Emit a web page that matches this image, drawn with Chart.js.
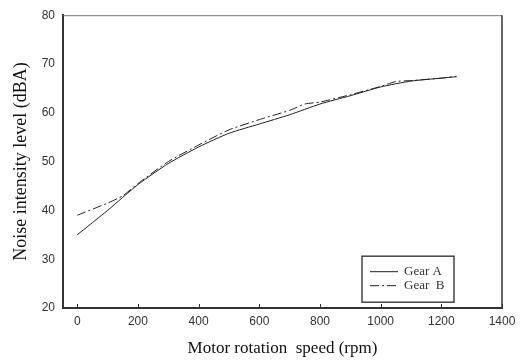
<!DOCTYPE html>
<html>
<head>
<meta charset="utf-8">
<script src="https://cdn.jsdelivr.net/npm/chart.js@4/dist/chart.umd.min.js"></script>
<style>
html,body{margin:0;padding:0;background:#fff;}
#wrap{width:530px;height:361px;position:relative;}
</style>
</head>
<body>
<div id="wrap"><canvas id="c" width="530" height="361"></canvas></div>
<script>
// Data
const gearA_rpm = [0, 100, 200, 300, 400, 500, 600, 700, 800, 900, 1000, 1100, 1200, 1250];
const gearA_dB  = [35, 40, 45.3, 49.6, 53, 55.8, 57.7, 59.6, 61.8, 63.5, 65.3, 66.5, 67.1, 67.4];
const gearB_rpm = [0, 100, 150, 200, 300, 400, 500, 600, 700, 750, 800, 900, 1000, 1050, 1100, 1200, 1250];
const gearB_dB  = [39, 41.5, 43, 45.5, 50, 53.4, 56.5, 58.6, 60.5, 61.8, 62.2, 63.7, 65.4, 66.4, 66.6, 67.1, 67.5];
const seriesNames = ['Gear A', 'Gear  B'];
const xTicks = [0, 200, 400, 600, 800, 1000, 1200, 1400];
const yTicks = [20, 30, 40, 50, 60, 70, 80];

const toPts = (xs, ys) => xs.map((x, i) => ({x: x, y: ys[i]}));

const framePlugin = {
  id: 'frame',
  afterDraw(chart) {
    const ctx = chart.ctx, a = chart.chartArea, xs = chart.scales.x;
    ctx.save();
    ctx.strokeStyle = '#777'; ctx.lineWidth = 1;
    ctx.beginPath(); ctx.moveTo(a.left, a.top + 0.5); ctx.lineTo(a.right, a.top + 0.5); ctx.stroke();
    ctx.strokeStyle = '#333'; ctx.lineWidth = 1.5;
    ctx.beginPath(); ctx.moveTo(a.right, a.top); ctx.lineTo(a.right, a.bottom); ctx.stroke();
    ctx.strokeStyle = '#333'; ctx.lineWidth = 1;
    xs.ticks.forEach((t, i) => {
      const px = Math.round(xs.getPixelForTick(i)) + 0.5;
      ctx.beginPath(); ctx.moveTo(px, a.bottom); ctx.lineTo(px, a.bottom - 4); ctx.stroke();
    });
    const bx = a.left + 299, by = a.top + 241, bw = 92, bh = 46;
    ctx.strokeStyle = '#444'; ctx.lineWidth = 1.5;
    ctx.strokeRect(bx, by, bw, bh);
    ctx.font = '13px "Liberation Serif", "Times New Roman", serif';
    ctx.textBaseline = 'middle';
    chart.data.datasets.forEach((ds, i) => {
      const ly = by + 15 + i * 14;
      ctx.strokeStyle = ds.borderColor; ctx.lineWidth = 1;
      ctx.setLineDash(ds.borderDash || []);
      ctx.beginPath(); ctx.moveTo(bx + 8, ly + 0.5); ctx.lineTo(bx + 36, ly + 0.5); ctx.stroke();
      ctx.setLineDash([]);
      ctx.fillStyle = '#333';
      ctx.fillText(ds.label, bx + 42, ly);
    });
    ctx.restore();
  }
};

new Chart(document.getElementById('c'), {
  type: 'line',
  data: {
    datasets: [
      {label: seriesNames[0], data: toPts(gearA_rpm, gearA_dB), borderColor: '#222', borderWidth: 1, pointRadius: 0, tension: 0.2, fill: false},
      {label: seriesNames[1], data: toPts(gearB_rpm, gearB_dB), borderColor: '#222', borderWidth: 1, borderDash: [9, 3, 2, 3], pointRadius: 0, tension: 0.2, fill: false}
    ]
  },
  options: {
    responsive: false,
    animation: false,
    events: [],
    layout: {padding: {left: 10, right: 28, top: 10, bottom: 0}},
    plugins: {legend: {display: false}, tooltip: {enabled: false}},
    scales: {
      x: {
        type: 'linear', min: -47, max: 1400,
        afterBuildTicks: s => { s.ticks = xTicks.map(v => ({value: v})); },
        afterFit: s => { s.height = 53; },
        grid: {display: false, drawTicks: false},
        border: {display: true, color: '#333', width: 2},
        ticks: {padding: 6, color: '#333', maxRotation: 0, autoSkip: false,
                callback: v => String(v),
                font: {family: '"Liberation Sans", Arial, sans-serif', size: 12}},
        title: {display: true, text: 'Motor rotation  speed (rpm)', color: '#111',
                padding: {top: 0, bottom: 2},
                font: {family: '"Liberation Serif", "Times New Roman", serif', size: 17}}
      },
      y: {
        type: 'linear', min: 20, max: 80,
        afterBuildTicks: s => { s.ticks = yTicks.map(v => ({value: v})); },
        afterFit: s => { s.width = 53; },
        grid: {display: false, drawTicks: false},
        border: {display: true, color: '#333', width: 2},
        ticks: {padding: 8, color: '#333', callback: v => String(v),
                font: {family: '"Liberation Sans", Arial, sans-serif', size: 12}},
        title: {display: true, text: 'Noise intensity level (dBA)', color: '#111',
                padding: 0,
                font: {family: '"Liberation Serif", "Times New Roman", serif', size: 18}}
      }
    }
  },
  plugins: [framePlugin]
});
</script>
</body>
</html>
